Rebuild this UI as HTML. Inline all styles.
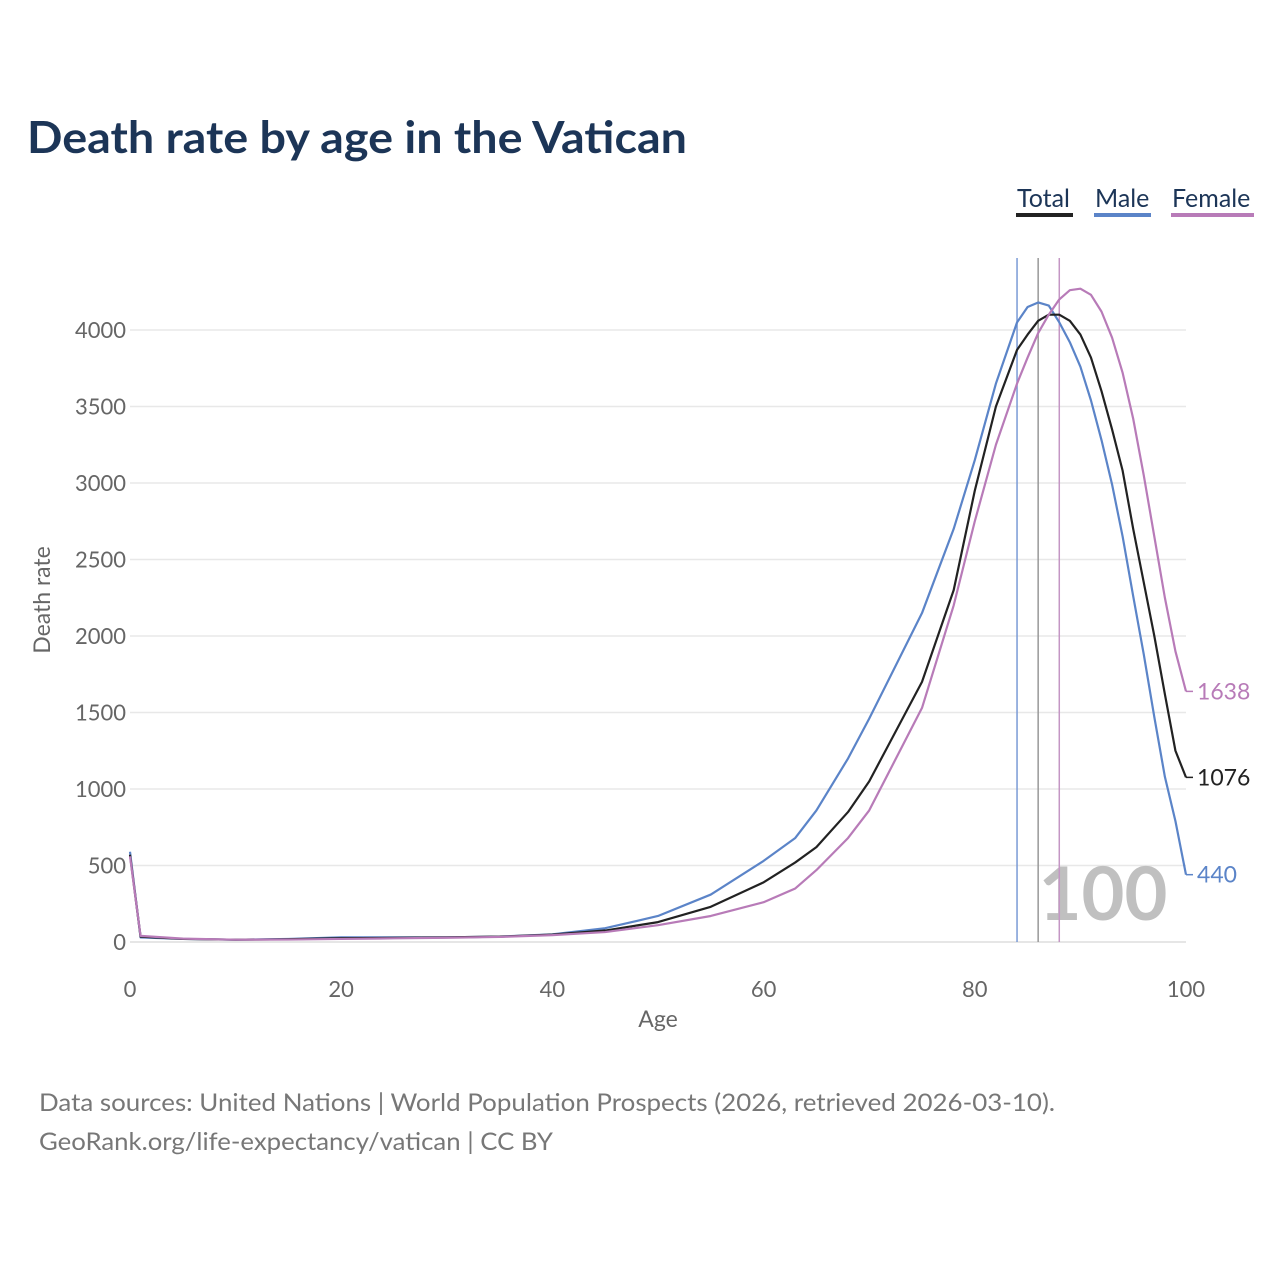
<!DOCTYPE html>
<html><head><meta charset="utf-8"><style>
body{margin:0;background:#fff;font-family:"Liberation Sans",sans-serif}
svg text{font-family:"Lato","Liberation Sans",sans-serif}
</style></head><body>
<svg id="chart" width="1280" height="1280" viewBox="0 0 1280 1280">
<text x="27" y="153" font-size="44" font-weight="bold" fill="#1c3557" textLength="660" lengthAdjust="spacingAndGlyphs">Death rate by age in the Vatican</text>
<g>
<text x="1017" y="207" font-size="25" fill="#1c3557">Total</text>
<rect x="1016" y="213" width="57" height="4" fill="#222"/>
<text x="1095" y="207" font-size="25" fill="#1c3557">Male</text>
<rect x="1094" y="213" width="57" height="4" fill="#5b84c8"/>
<text x="1172" y="207" font-size="25" fill="#1c3557">Female</text>
<rect x="1171" y="213" width="83" height="4" fill="#b87bb8"/>
</g>
<g id="grid"></g>
<text x="1103" y="920" font-size="74" font-weight="bold" fill="#c0c0c0" text-anchor="middle">100</text>
<g id="marks"></g>
<text transform="translate(50,600) rotate(-90)" font-size="23" fill="#666" text-anchor="middle">Death rate</text>
<text x="658" y="1027" font-size="23" fill="#666" text-anchor="middle">Age</text>
<text x="39" y="1111" font-size="24" fill="#777" textLength="1016" lengthAdjust="spacingAndGlyphs">Data sources: United Nations | World Population Prospects (2026, retrieved 2026-03-10).</text>
<text x="39" y="1150" font-size="24" fill="#777" textLength="514" lengthAdjust="spacingAndGlyphs">GeoRank.org/life-expectancy/vatican | CC BY</text>
</svg>
<script>
const ages=[0,1,5,10,15,20,25,30,35,40,45,50,55,60,63,65,68,70,75,78,80,82,84,85,86,87,88,89,90,91,92,93,94,95,96,97,98,99,100];
const male=[590,30,20,15,20,30,30,30,35,50,90,170,310,530,680,860,1200,1460,2150,2700,3150,3650,4050,4150,4180,4160,4050,3920,3760,3540,3280,2990,2650,2260,1880,1470,1080,790,440];
const total=[570,35,20,15,18,25,27,30,35,48,75,130,230,390,520,620,850,1050,1700,2300,2950,3500,3870,3970,4060,4100,4100,4060,3970,3820,3600,3350,3080,2700,2350,2000,1620,1250,1076];
const female=[560,40,22,15,16,20,24,28,33,45,65,110,170,260,350,470,680,860,1530,2200,2750,3250,3650,3820,3980,4100,4200,4260,4270,4230,4120,3950,3720,3420,3050,2650,2250,1900,1638];
const yTicks=[0,500,1000,1500,2000,2500,3000,3500,4000];
const xTicks=[0,20,40,60,80,100];
const lifeExp={male:84,total:86,female:88};
const NS="http://www.w3.org/2000/svg";
const X=a=>130+a*10.56, Y=v=>942-v*0.153;
function mk(t,at,parent){const e=document.createElementNS(NS,t);for(const k in at)e.setAttribute(k,at[k]);parent.appendChild(e);return e;}
const grid=document.getElementById('grid'),marks=document.getElementById('marks');
yTicks.forEach(v=>{
 const l=mk('line',{x1:130,x2:1186,y1:Y(v),y2:Y(v),stroke:v===0?'#ddd':'#e8e8e8','stroke-width':1.5},grid);
 
 
 const t=mk('text',{x:126,y:Y(v)+8,'font-size':22,fill:'#666','text-anchor':'end'},grid);t.textContent=v;
 
 
});
xTicks.forEach(a=>{
 const t=mk('text',{x:X(a),y:997,'font-size':22,fill:'#666','text-anchor':'middle'},grid);t.textContent=a;
 
 
});
const series=[['male',male,'#5b84c8'],['total',total,'#222'],['female',female,'#b87bb8']];
[['male','#7a9ad6'],['total','#999'],['female','#c496c4']].forEach(([k,c])=>{
 const l=mk('line',{x1:X(lifeExp[k]),x2:X(lifeExp[k]),y1:258,y2:942,stroke:c,'stroke-width':1.5},marks);
 
 
});
series.forEach(([k,d,c])=>{
 const p=mk('polyline',{points:ages.map((a,i)=>X(a)+','+Y(d[i])).join(' '),fill:'none',stroke:c,'stroke-width':2.2,'stroke-linejoin':'round'},marks);
 
 
 const last=d[d.length-1];
 const tk=mk('line',{x1:X(100),x2:X(100)+7,y1:Y(last),y2:Y(last),stroke:c,'stroke-width':1.5},marks);
 
 
 const t=mk('text',{x:X(100)+11,y:Y(last)+8,'font-size':23,fill:c},marks);t.textContent=last;
 
 
});
</script>
</body></html>
